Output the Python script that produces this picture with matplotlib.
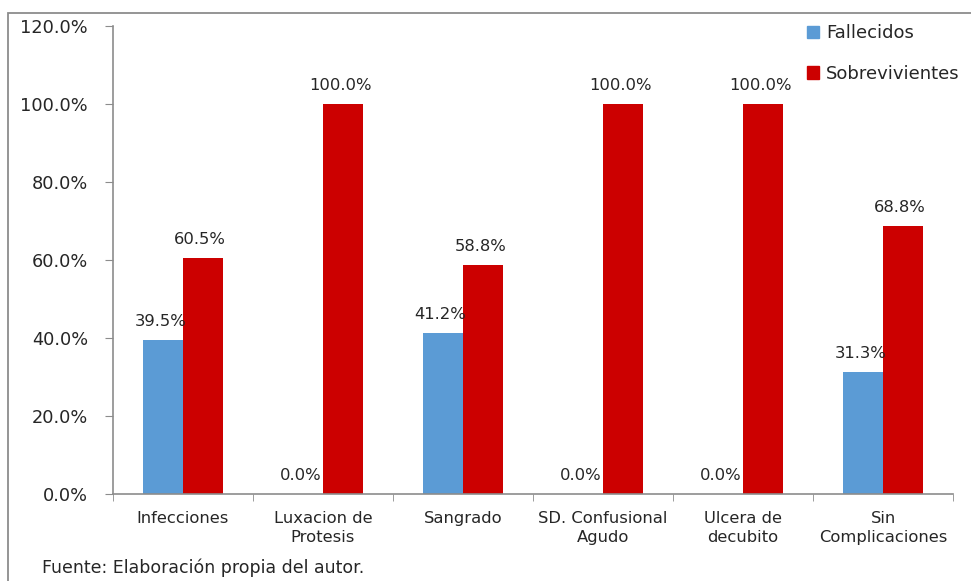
import numpy as np
import matplotlib
matplotlib.use('Agg')
import matplotlib.pyplot as plt
from matplotlib.patches import Rectangle, Patch

categorias = ['Infecciones', 'Luxacion de\nProtesis', 'Sangrado',
              'SD. Confusional\nAgudo', 'Ulcera de\ndecubito', 'Sin\nComplicaciones']
fallecidos = [39.5, 0.0, 41.2, 0.0, 0.0, 31.3]
sobrevivientes = [60.5, 100.0, 58.8, 100.0, 100.0, 68.8]
y_ticks = [0, 20, 40, 60, 80, 100, 120]

AZUL = '#5B9BD5'
ROJO = '#CC0000'
GRIS = '#8C8C8C'
TXT = '#262626'

plt.rcParams['font.family'] = ['DejaVu Sans']

fig = plt.figure(figsize=(9.71, 5.81), dpi=100)
ax = fig.add_axes([113 / 971, 1 - 494 / 581, 840 / 971, 468 / 581])

x = np.arange(len(categorias))
w = 0.2857
b1 = ax.bar(x - w / 2, fallecidos, w, color=AZUL, label='Fallecidos')
b2 = ax.bar(x + w / 2, sobrevivientes, w, color=ROJO, label='Sobrevivientes')

for bars, vals in ((b1, fallecidos), (b2, sobrevivientes)):
    for r, v in zip(bars, vals):
        ax.annotate(f'{v:.1f}%', (r.get_x() + r.get_width() / 2, v),
                    xytext=(-2, 8), textcoords='offset points',
                    ha='center', va='bottom', fontsize=11.8, color=TXT)

ax.set_xlim(-0.5, len(categorias) - 0.5)
ax.set_ylim(0, 120)
ax.set_yticks(y_ticks)
ax.set_yticklabels([f'{t:.1f}%' for t in y_ticks], fontsize=12.8, color=TXT)
ax.set_xticks(x)
ax.set_xticklabels(categorias, fontsize=11.8, color=TXT, linespacing=1.4)
ax.set_xticks(np.arange(len(categorias) + 1) - 0.5, minor=True)
ax.tick_params(axis='x', which='major', length=0, pad=12)
ax.tick_params(axis='x', which='minor', length=5, color=GRIS)
ax.tick_params(axis='y', length=6, color=GRIS, pad=12)

for s in ('top', 'right'):
    ax.spines[s].set_visible(False)
for s in ('left', 'bottom'):
    ax.spines[s].set_color(GRIS)
    ax.spines[s].set_linewidth(1.2)

handles = [Patch(color=AZUL, label='Fallecidos'), Patch(color=ROJO, label='Sobrevivientes')]
fig.legend(handles=handles, loc='upper left', bbox_to_anchor=(791 / 971, 1 - 8 / 581),
           frameon=False, fontsize=13, handlelength=0.65, handleheight=0.65,
           handletextpad=0.4, labelspacing=1.25, labelcolor=TXT)

fig.text(42 / 971, 1 - 568 / 581, 'Fuente: Elaboración propia del autor.',
         fontsize=12.5, color=TXT, va='center', ha='left')

fig.patches.append(Rectangle((8 / 971, -0.05), 1.1, 1.05 - 13 / 581,
                             transform=fig.transFigure, fill=False,
                             edgecolor=GRIS, linewidth=1.3))

fig.savefig('out.png', dpi=100)
